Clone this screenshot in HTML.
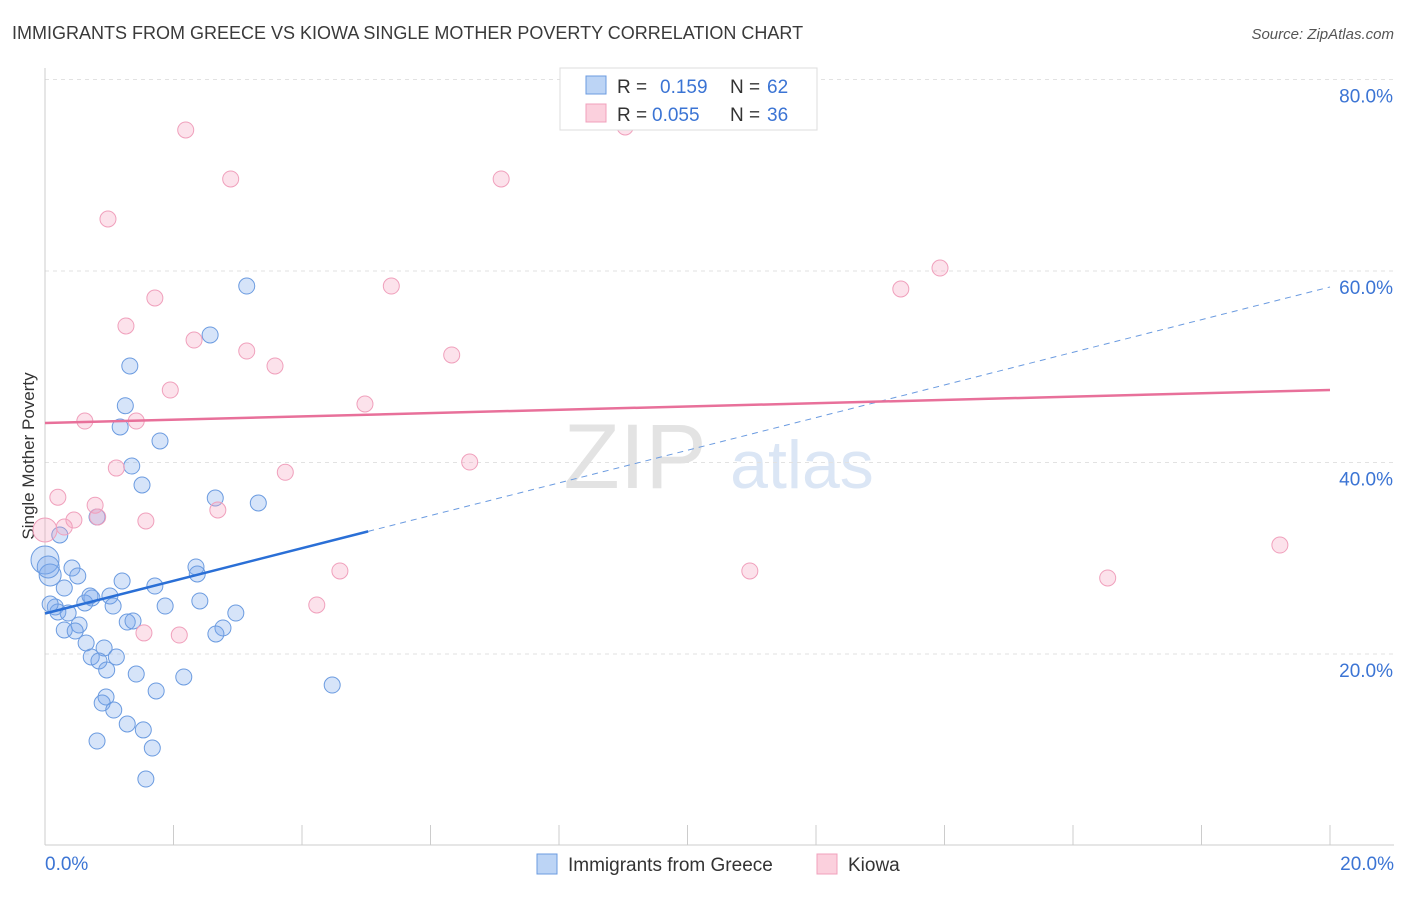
<!DOCTYPE html>
<html><head><meta charset="utf-8">
<style>
body{margin:0;background:#fff;font-family:"Liberation Sans",sans-serif;}
svg text{font-family:"Liberation Sans",sans-serif;}
</style></head>
<body>
<svg id="chart" width="1406" height="892" xmlns="http://www.w3.org/2000/svg">
<text x="12" y="39" font-size="18" fill="#3a3a3a">IMMIGRANTS FROM GREECE VS KIOWA SINGLE MOTHER POVERTY CORRELATION CHART</text>
<text x="1394" y="39" font-size="15" fill="#555" text-anchor="end" font-style="italic">Source: ZipAtlas.com</text>
<text transform="translate(34,456) rotate(-90)" font-size="17" fill="#333" text-anchor="middle">Single Mother Poverty</text>
<g>
<text x="635" y="488" font-size="92" fill="#e3e3e3" text-anchor="middle" font-family="Liberation Serif,serif">ZIP</text>
<text x="802" y="488" font-size="68" fill="#dbe6f5" text-anchor="middle">atlas</text>
</g>
<g id="grid"></g>
<g id="axes"></g>
<g id="points"></g>
<g id="trends"></g>
<g>
<rect x="560" y="68" width="257" height="62" fill="#fff" stroke="#ddd"/>
<rect x="586" y="76" width="20" height="18" fill="#bcd4f5" stroke="#6b9be0"/>
<text x="617" y="93" font-size="19" fill="#333">R = </text><text x="660" y="93" font-size="19" fill="#3b74d4">0.159</text>
<text x="730" y="93" font-size="19" fill="#333">N = </text><text x="767" y="93" font-size="19" fill="#3b74d4">62</text>
<rect x="586" y="104" width="20" height="18" fill="#fbd0dd" stroke="#f0a0bc"/>
<text x="617" y="121" font-size="19" fill="#333">R = </text><text x="652" y="121" font-size="19" fill="#3b74d4">0.055</text>
<text x="730" y="121" font-size="19" fill="#333">N = </text><text x="767" y="121" font-size="19" fill="#3b74d4">36</text>
</g>
<g>
<rect x="537" y="854" width="20" height="20" fill="#bcd4f5" stroke="#6b9be0"/>
<text x="568" y="871" font-size="19" fill="#333">Immigrants from Greece</text>
<rect x="817" y="854" width="20" height="20" fill="#fbd0dd" stroke="#f0a0bc"/>
<text x="848" y="871" font-size="19" fill="#333">Kiowa</text>
</g>
</svg>
<script>
const blueX=[3.14,2.57,1.32,1.25,1.17,1.79,1.35,1.51,2.65,3.32,0.81,0.23,0.0,0.08,0.42,0.51,0.30,1.20,1.71,2.35,2.37,1.01,0.73,0.62,1.06,0.16,0.20,0.36,1.87,2.41,2.97,1.28,1.37,0.53,0.30,0.47,2.77,2.66,0.64,0.92,0.72,1.11,0.84,0.96,1.42,2.16,1.73,4.47,0.95,0.89,1.07,1.28,1.53,0.81,1.67,1.57,0.08,0.70,0.05];
const blueY=[58.43,53.32,50.08,45.93,43.71,42.25,39.63,37.65,36.29,35.77,34.31,32.43,29.82,28.25,28.98,28.15,26.89,27.62,27.10,29.09,28.36,26.06,25.85,25.33,25.01,24.91,24.39,24.28,25.01,25.54,24.28,23.34,23.45,23.03,22.51,22.40,22.72,22.09,21.15,20.63,19.69,19.69,19.27,18.33,17.91,17.60,16.14,16.76,15.51,14.88,14.15,12.69,12.07,10.91,10.18,6.94,25.22,26.06,29.09];
const pinkX=[2.19,9.03,2.89,7.10,0.98,13.93,13.32,5.39,1.71,1.26,2.32,3.14,3.58,6.33,1.95,4.98,0.62,1.42,6.61,1.11,3.74,0.20,0.78,0.82,0.45,1.57,0.30,2.69,19.22,0.0,10.97,16.54,4.59,4.23,1.54,2.09];
const pinkY=[74.73,75.04,69.61,69.61,65.43,60.31,58.12,58.43,57.18,54.26,52.79,51.64,50.08,51.23,47.57,46.11,44.33,44.33,40.05,39.42,38.98,36.37,35.54,34.31,33.99,33.89,33.26,35.04,31.38,32.95,28.67,27.94,28.67,25.12,22.20,21.98];
const yTicks=[20,40,60,80];
const yTickLabels=["20.0%","40.0%","60.0%","80.0%"];
const blueTrend=[24.23,58.33]; const blueSolidEnd=5.03;
const pinkTrend=[44.13,47.57];
const NS="http://www.w3.org/2000/svg";
const X=v=>45+v*64.25, Y=v=>845.5-v*9.575;
function mk(p,t,a){const e=document.createElementNS(NS,t);for(const k in a)e.setAttribute(k,a[k]);document.getElementById(p).appendChild(e);return e;}
yTicks.forEach((t,i)=>{
 const l=mk('grid','line',{x1:45,x2:1394,y1:Y(t),y2:Y(t),stroke:'#e2e2e2','stroke-dasharray':'4,4'});
 
 
 const tx=mk('grid','text',{x:1393,y:Y(t)+23,'font-size':19,fill:'#3b74d4','text-anchor':'end'});
 tx.textContent=yTickLabels[i];
 
 
});
const ax=mk('axes','line',{x1:45,x2:1394,y1:845,y2:845,stroke:'#ccc'});


const ay=mk('axes','line',{x1:45,x2:45,y1:68,y2:845,stroke:'#ccc'});


for(let i=0;i<=10;i++){const t=mk('axes','line',{x1:X(i*2),x2:X(i*2),y1:825,y2:845,stroke:'#ccc'});
 
 }
const x0=mk('axes','text',{x:45,y:870,'font-size':19,fill:'#3b74d4'});x0.textContent='0.0%';


const x1=mk('axes','text',{x:1394,y:870,'font-size':19,fill:'#3b74d4','text-anchor':'end'});x1.textContent='20.0%';


blueX.forEach((v,i)=>{const big=(v<0.1&&blueY[i]>28);const c=mk('points','circle',{cx:X(v),cy:Y(blueY[i]),r:big?(i==12?14:11):8,fill:'rgba(120,165,235,0.3)',stroke:'#6b9be0','stroke-width':1});
 
 });
pinkX.forEach((v,i)=>{const c=mk('points','circle',{cx:X(v),cy:Y(pinkY[i]),r:v<0.05?12:8,fill:'rgba(245,160,190,0.3)',stroke:'#f0a0bc','stroke-width':1});
 
 });
const bv=x=>blueTrend[0]+(blueTrend[1]-blueTrend[0])*x/20;
const b1=mk('trends','line',{x1:X(0),y1:Y(bv(0)),x2:X(blueSolidEnd),y2:Y(bv(blueSolidEnd)),stroke:'#2a6fd6','stroke-width':2.5});


const b2=mk('trends','line',{x1:X(blueSolidEnd),y1:Y(bv(blueSolidEnd)),x2:X(20),y2:Y(bv(20)),stroke:'#6b9be0','stroke-width':1,'stroke-dasharray':'6,5'});


const p1=mk('trends','line',{x1:X(0),y1:Y(pinkTrend[0]),x2:X(20),y2:Y(pinkTrend[1]),stroke:'#e8709a','stroke-width':2.5});


</script>
</body></html>
